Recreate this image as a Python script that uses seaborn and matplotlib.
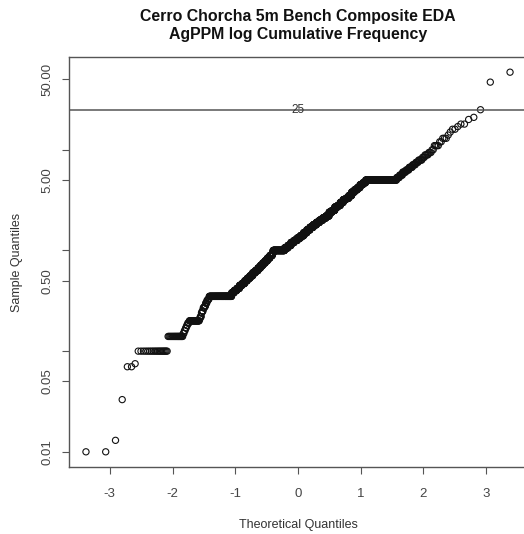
import numpy as np
import pandas as pd
import seaborn as sns
import matplotlib
matplotlib.use("Agg")
import matplotlib.pyplot as plt
from statistics import NormalDist

# ---- data: sorted Ag ppm sample values (distinct levels) and how many samples sit at each level
levels = [0.01, 0.013, 0.033, 0.07, 0.075, 0.1, 0.14, 0.15, 0.16, 0.17, 0.18, 0.19, 0.2, 0.21, 0.22,
          0.24, 0.25, 0.27, 0.28, 0.3, 0.32, 0.33, 0.35, 0.38, 0.4, 0.42, 0.45, 0.47, 0.5, 0.53, 0.56,
          0.6, 0.63, 0.67, 0.71, 0.75, 0.79, 0.84, 0.89, 0.94, 1.0, 1.06, 1.12, 1.2, 1.26, 1.33, 1.4,
          1.5, 1.6, 1.7, 1.8, 1.9, 2.0, 2.1, 2.2, 2.4, 2.5, 2.7, 2.8, 3.0, 3.2, 3.3, 3.5, 3.8, 4.0,
          4.2, 4.5, 4.7, 5.0, 5.3, 5.6, 6.0, 6.3, 6.7, 7.1, 7.5, 7.9, 8.4, 8.9, 9.4, 10.0, 11.0, 12.0,
          13.0, 14.0, 15.0, 16.0, 17.0, 18.0, 20.0, 21.0, 25.0, 47.0, 59.0]
counts = [2, 1, 1, 2, 1, 19, 20, 2, 2, 2, 2, 3, 23, 2, 3, 2, 3, 4, 3, 4, 4, 3, 92, 13, 14, 15, 15,
          16, 16, 17, 18, 18, 19, 18, 17, 18, 18, 19, 19, 7, 96, 28, 27, 28, 28, 27, 28, 28, 27, 28,
          27, 26, 26, 26, 25, 22, 21, 21, 19, 20, 18, 18, 18, 17, 16, 15, 15, 14, 114, 7, 7, 7, 6, 6,
          5, 4, 5, 3, 4, 3, 2, 4, 2, 3, 1, 1, 2, 1, 2, 1, 1, 1, 1, 1]

y_ticks = [0.01, 0.05, 0.1, 0.5, 1, 5, 10, 50]
y_tick_labels = ["0.01", "0.05", "", "0.50", "", "5.00", "", "50.00"]
x_ticks = [-3, -2, -1, 0, 1, 2, 3]
ref_level = 25
title_lines = ["Cerro Chorcha 5m Bench Composite EDA", "AgPPM log Cumulative Frequency"]

# ---- build the QQ table (normal scores from ranks, like R's qqnorm)
sample = np.sort(np.repeat(levels, counts))
n = len(sample)
nd = NormalDist()
theo = np.array([nd.inv_cdf((i - 0.5) / n) for i in range(1, n + 1)])
df = pd.DataFrame({"theoretical": theo, "sample": sample})

sns.set_theme(style="ticks")
plt.rcParams["font.family"] = ["Liberation Sans", "DejaVu Sans"]

W, H = 524, 534
fig = plt.figure(figsize=(W / 100, H / 100), dpi=100)
fig.patch.set_facecolor("white")
left_px, right_px, top_px, bottom_px = 69, 527, 57, 467
ax = fig.add_axes([left_px / W, 1 - bottom_px / H, (right_px - left_px) / W, (bottom_px - top_px) / H])
ax.set_facecolor("white")

sns.scatterplot(data=df, x="theoretical", y="sample", ax=ax, marker="o",
                facecolors="none", edgecolor="#111111", linewidth=0.8, s=20, legend=False)
ax.set_yscale("log")

lo, hi = np.log10(sample.min()), np.log10(sample.max())
pad = 0.04 * (hi - lo)
ax.set_ylim(10 ** (lo - pad), 10 ** (hi + pad))
xr = theo.max() - theo.min()
ax.set_xlim(theo.min() - 0.04 * xr, theo.max() + 0.04 * xr)

ax.axhline(ref_level, color="#555555", lw=1.1, zorder=1)
ax.text(0, ref_level, str(ref_level), ha="center", va="center", fontsize=8.5, color="#333333")

ax.set_yticks(y_ticks)
ax.set_yticklabels(y_tick_labels, rotation=90, va="center", fontsize=9.5, color="#444444")
ax.minorticks_off()
ax.set_xticks(x_ticks)
ax.set_xticklabels([str(t) for t in x_ticks], fontsize=9.5, color="#444444")
ax.tick_params(axis="both", direction="out", length=5, width=0.8, color="#555555")
ax.tick_params(axis="x", pad=10)
ax.tick_params(axis="y", pad=6)
for sp in ax.spines.values():
    sp.set_visible(True)
    sp.set_color("#555555")
    sp.set_linewidth(1.0)

ax.set_xlabel("")
ax.set_ylabel("")
fig.text(298 / W, 1 - 525 / H, "Theoretical Quantiles", ha="center", va="center", fontsize=9, color="#333333")
fig.text(17 / W, 1 - 262 / H, "Sample Quantiles", ha="center", va="center", rotation=90, fontsize=9, color="#333333")

fig.text(298 / W, 1 - 16 / H, title_lines[0], ha="center", va="center", fontsize=11.4, fontweight="bold", color="#111111")
fig.text(298 / W, 1 - 35 / H, title_lines[1], ha="center", va="center", fontsize=11.4, fontweight="bold", color="#111111")

fig.savefig("out.png", dpi=100, facecolor="white")
